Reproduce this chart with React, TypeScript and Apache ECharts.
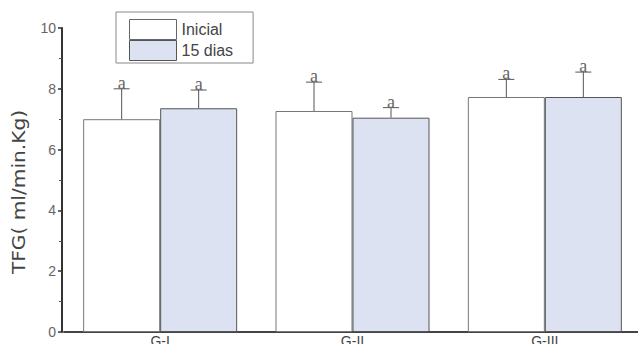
import React, { useEffect, useRef } from "react";
import * as echarts from "echarts";

const categories = ["G-I", "G-II", "G-III"];
const seriesNames = ["Inicial", "15 dias"];
const inicialValues = [7.0, 7.27, 7.73];
const diasValues = [7.36, 7.05, 7.73];
const inicialErrors = [1.0, 0.95, 0.58];
const diasErrors = [0.6, 0.33, 0.82];
const inicialLetters = ["a", "a", "a"];
const diasLetters = ["a", "a", "a"];

const BAR_W = 77;

function errSeries(values: number[], errors: number[], letters: string[], offset: number) {
  return {
    type: "custom",
    z: 5,
    silent: true,
    data: values.map((v, i) => [i, v, errors[i]]),
    encode: { x: 0, y: 1 },
    renderItem: (params: any, api: any) => {
      const cat = api.value(0);
      const v = api.value(1);
      const e = api.value(2);
      const idx = params.dataIndex;
      const p0 = api.coord([cat, v]);
      const p1 = api.coord([cat, v + e]);
      const x = p0[0] + offset;
      const style = { stroke: "#555", lineWidth: 1 };
      return {
        type: "group",
        children: [
          { type: "line", shape: { x1: x, y1: p0[1], x2: x, y2: p1[1] }, style },
          { type: "line", shape: { x1: x - 8, y1: p1[1], x2: x + 8, y2: p1[1] }, style },
          {
            type: "text",
            x: x,
            y: p1[1] + 3,
            style: {
              text: letters[idx],
              fill: "#666",
              font: "18px 'Liberation Serif', serif",
              align: "center",
              verticalAlign: "bottom",
            },
          },
        ],
      };
    },
  };
}

export default function App() {
  const ref = useRef<HTMLDivElement>(null);
  useEffect(() => {
    if (!ref.current) return;
    const chart = echarts.init(ref.current, undefined, { renderer: "svg" });
    chart.setOption({
      animation: false,
      backgroundColor: "#fff",
      grid: { left: 64, top: 28, width: 577, bottom: 12, outerBoundsMode: "none", containLabel: false },
      legend: {
        orient: "vertical",
        left: 116,
        top: 12,
        itemWidth: 47,
        itemHeight: 20,
        itemGap: 0,
        padding: [7, 20, 2, 13],
        borderColor: "#888",
        borderWidth: 1,
        icon: "rect",
        textStyle: { fontSize: 16, color: "#444", fontFamily: "'Liberation Sans', Arial, sans-serif" },
        data: [
          { name: seriesNames[0], itemStyle: { color: "#fff", borderColor: "#666", borderWidth: 1 } },
          { name: seriesNames[1], itemStyle: { color: "#dce2f2", borderColor: "#555", borderWidth: 1 } },
        ],
      },
      xAxis: {
        type: "category",
        data: categories,
        axisLine: { lineStyle: { color: "#444", width: 2 } },
        axisTick: { show: false },
        axisLabel: { color: "#444", fontSize: 14, margin: 2, fontFamily: "'Liberation Sans', Arial, sans-serif" },
      },
      yAxis: {
        type: "value",
        min: 0,
        max: 10,
        interval: 2,
        offset: 2,
        axisLine: { show: true, lineStyle: { color: "#333", width: 2 } },
        axisTick: { show: true, length: 4, lineStyle: { color: "#333", width: 1.5 } },
        minorTick: { show: true, splitNumber: 2, length: 3, lineStyle: { color: "#555" } },
        splitLine: { show: false },
        axisLabel: { color: "#666", fontSize: 14, margin: 6, fontFamily: "'Liberation Sans', Arial, sans-serif" },
      },
      graphic: [
        {
          type: "text",
          x: 19,
          y: 192,
          rotation: Math.PI / 2,
          scaleX: 1.12,
          style: {
            text: "TFG( ml/min.Kg)",
            fill: "#444",
            font: "18px 'DejaVu Sans', sans-serif",
            align: "center",
            verticalAlign: "middle",
          },
        },
      ],
      series: [
        {
          name: seriesNames[0],
          type: "bar",
          data: inicialValues,
          barWidth: BAR_W,
          barGap: "0%",
          itemStyle: { color: "#fff", borderColor: "#777", borderWidth: 1 },
        },
        {
          name: seriesNames[1],
          type: "bar",
          data: diasValues,
          barWidth: BAR_W,
          barGap: "0%",
          itemStyle: { color: "#dce2f2", borderColor: "#555", borderWidth: 1 },
        },
        errSeries(inicialValues, inicialErrors, inicialLetters, -BAR_W / 2),
        errSeries(diasValues, diasErrors, diasLetters, BAR_W / 2),
      ],
    });
    return () => chart.dispose();
  }, []);
  return (
    <div
      ref={ref}
      style={{ position: "fixed", left: 0, top: 0, width: 638, height: 344 }}
    />
  );
}
